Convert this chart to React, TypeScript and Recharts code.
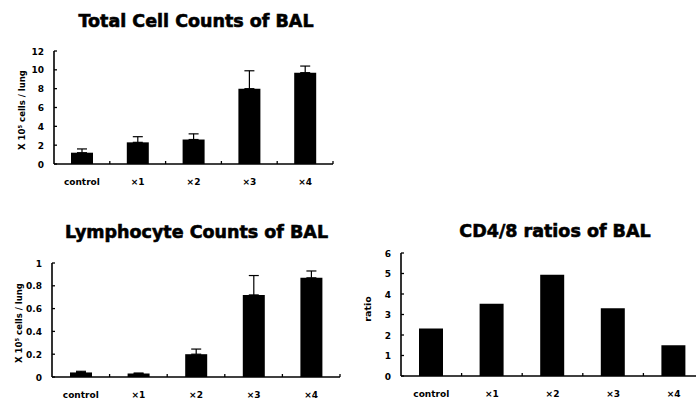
import { Bar, BarChart, ErrorBar, XAxis, YAxis } from "recharts";

const categories = ["control", "×1", "×2", "×3", "×4"];

const totalCells = [1.2, 2.3, 2.6, 8.0, 9.7];
const totalCellsErr = [0.4, 0.6, 0.6, 1.9, 0.7];

const lymphocytes = [0.04, 0.03, 0.2, 0.72, 0.87];
const lymphocytesErr = [0.01, 0.005, 0.045, 0.17, 0.06];

const cd48Ratio = [2.32, 3.53, 4.94, 3.3, 1.5];

const totalTicks = [0, 2, 4, 6, 8, 10, 12];
const lymphTicks = [0, 0.2, 0.4, 0.6, 0.8, 1];
const ratioTicks = [0, 1, 2, 3, 4, 5, 6];

const FONT = "'DejaVu Sans', sans-serif";

interface PanelProps {
  left: number;
  top: number;
  width: number;
  height: number;
  yWidth: number;
  marginTop: number;
  marginRight: number;
  marginBottom: number;
  values: number[];
  errors?: number[];
  domain: [number, number];
  ticks: number[];
  barSize: number;
}

function Panel(p: PanelProps) {
  const data = categories.map((name, i) => ({
    name,
    value: p.values[i],
    err: p.errors ? [0, p.errors[i]] : undefined,
  }));
  // width of one category band, used for the boundary tick marks
  const band = (p.width - p.yWidth - p.marginRight) / categories.length;

  const yTick = (props: any) => {
    const { x, y, payload } = props;
    return (
      <g>
        <line x1={x + 10} x2={x + 13} y1={y} y2={y} stroke="#000" strokeWidth={1.3} />
        <text x={x} y={y} dy={3.5} textAnchor="end" fontSize={9} fontWeight="bold" fontFamily={FONT} fill="#000">
          {payload.value}
        </text>
      </g>
    );
  };

  const xTick = (props: any) => {
    const { x, y, payload } = props;
    return (
      <g>
        <line x1={x + band / 2} x2={x + band / 2} y1={y} y2={y - 3} stroke="#000" strokeWidth={1.3} />
        <text x={x} y={y} dy={20.5} textAnchor="middle" fontSize={9} fontWeight="bold" fontFamily={FONT} fill="#000">
          {payload.value}
        </text>
      </g>
    );
  };

  return (
    <div style={{ position: "absolute", left: p.left, top: p.top }}>
      <BarChart
        width={p.width}
        height={p.height}
        data={data}
        margin={{ top: p.marginTop, right: p.marginRight, bottom: p.marginBottom, left: 0 }}
      >
        <XAxis
          dataKey="name"
          height={20}
          axisLine={{ stroke: "#000", strokeWidth: 1.6 }}
          tickLine={false}
          tickSize={0}
          tickMargin={0}
          tick={xTick}
          interval={0}
        />
        <YAxis
          width={p.yWidth}
          domain={p.domain}
          ticks={p.ticks}
          interval={0}
          axisLine={{ stroke: "#000", strokeWidth: 1.6 }}
          tickLine={false}
          tickSize={0}
          tickMargin={10}
          tick={yTick}
        />
        <Bar dataKey="value" fill="#000" barSize={p.barSize} isAnimationActive={false}>
          {p.errors && (
            <ErrorBar dataKey="err" width={5} stroke="#000" strokeWidth={1.2} direction="y" />
          )}
        </Bar>
      </BarChart>
    </div>
  );
}

export default function App() {
  return (
    <div
      style={{
        position: "absolute",
        left: 0,
        top: 0,
        width: 696,
        height: 399,
        overflow: "hidden",
        background: "#fff",
      }}
    >
      <Panel
        left={0}
        top={0}
        width={350}
        height={200}
        yWidth={54}
        marginTop={51}
        marginRight={17}
        marginBottom={16}
        values={totalCells}
        errors={totalCellsErr}
        domain={[0, 12]}
        ticks={totalTicks}
        barSize={22}
      />
      <Panel
        left={0}
        top={200}
        width={350}
        height={199}
        yWidth={52}
        marginTop={63}
        marginRight={10}
        marginBottom={2}
        values={lymphocytes}
        errors={lymphocytesErr}
        domain={[0, 1]}
        ticks={lymphTicks}
        barSize={22}
      />
      <Panel
        left={350}
        top={200}
        width={354}
        height={199}
        yWidth={51}
        marginTop={53}
        marginRight={0}
        marginBottom={3}
        values={cd48Ratio}
        domain={[0, 6]}
        ticks={ratioTicks}
        barSize={24}
      />
      <svg
        width={696}
        height={399}
        style={{ position: "absolute", left: 0, top: 0, pointerEvents: "none" }}
        fontFamily={FONT}
        fontWeight="bold"
        fill="#000"
      >
        <g stroke="#000" strokeWidth={0.6}>
          <text x={196} y={26.7} textAnchor="middle" fontSize={17.5}>
            Total Cell Counts of BAL
          </text>
          <text x={196.5} y={238} textAnchor="middle" fontSize={17.5}>
            Lymphocyte Counts of BAL
          </text>
          <text x={555} y={236.5} textAnchor="middle" fontSize={17.5}>
            CD4/8 ratios of BAL
          </text>
        </g>
        <text x={21.5} y={110} textAnchor="middle" dominantBaseline="central" fontSize={8.5} transform="rotate(-90 21.5 110)">
          X 10⁵ cells / lung
        </text>
        <text x={19} y={323} textAnchor="middle" dominantBaseline="central" fontSize={8.5} transform="rotate(-90 19 323)">
          X 10⁵ cells / lung
        </text>
        <text x={367} y={309} textAnchor="middle" dominantBaseline="central" fontSize={9.5} transform="rotate(-90 367 309)">
          ratio
        </text>
      </svg>
    </div>
  );
}
